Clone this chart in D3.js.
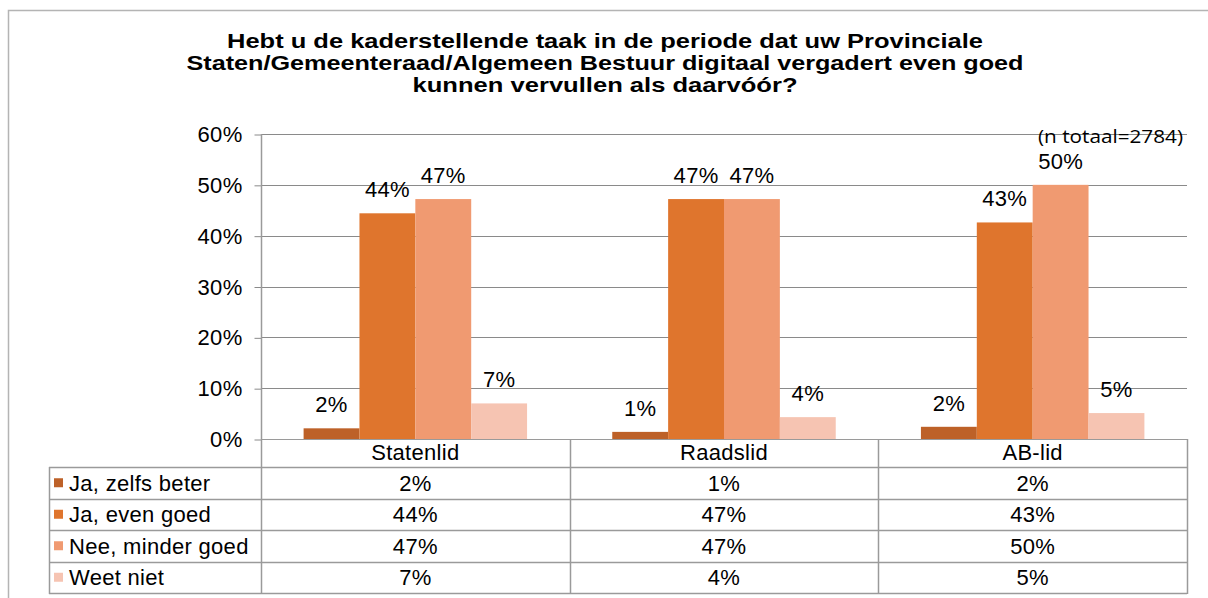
<!DOCTYPE html>
<html>
<head>
<meta charset="utf-8">
<script src="https://cdn.jsdelivr.net/npm/d3@7"></script>
<style>
  html, body { margin: 0; padding: 0; background: #fff; }
  svg { display: block; }
  text { font-family: "Liberation Sans", Arial, Helvetica, sans-serif; fill: #000; }
</style>
</head>
<body>
<svg id="chart" width="1208" height="598"></svg>
<script>
// ---- data ----
const titleLines = [
  "Hebt u de kaderstellende taak in de periode dat uw Provinciale",
  "Staten/Gemeenteraad/Algemeen Bestuur digitaal vergadert even goed",
  "kunnen vervullen als daarvóór?"
];
const categories = ["Statenlid", "Raadslid", "AB-lid"];
const seriesNames = ["Ja, zelfs beter", "Ja, even goed", "Nee, minder goed", "Weet niet"];
const seriesColors = ["#BD6128", "#DF752D", "#F09A71", "#F6C4B2"];
// values per series (percent), one entry per category
const jaZelfsBeter = [2.1, 1.4, 2.4];
const jaEvenGoed   = [44.4, 47.2, 42.6];
const neeMinderGoed = [47.2, 47.2, 50.0];
const weetNiet     = [7.0, 4.3, 5.1];
const seriesValues = [jaZelfsBeter, jaEvenGoed, neeMinderGoed, weetNiet];
const yTicks = [0, 10, 20, 30, 40, 50, 60];
const note = "(n totaal=2784)";

// ---- layout ----
const svg = d3.select("#chart");
const W = 1208, H = 598;
const plotL = 261, plotR = 1187, plotT = 134, plotB = 439;
const tableL = 49, headerB = 467, tableB = 593;
const gridColor = "#8a8a8a", tableColor = "#9a9a9a";
const FS = "22px", LS = "0.3px";

svg.append("rect").attr("width", W).attr("height", H).attr("fill", "#fff");
// outer frame
svg.append("rect").attr("x", 8.5).attr("y", 10.5).attr("width", 1300).attr("height", 700)
  .attr("fill", "none").attr("stroke", "#b4b4b4").attr("stroke-width", 1.5);

// title
const titleWidths = [756, 837, 385];
svg.append("g").selectAll("text").data(titleLines).join("text")
  .attr("x", 605).attr("y", (d, i) => 48 + i * 22)
  .attr("text-anchor", "middle")
  .attr("textLength", (d, i) => titleWidths[i])
  .attr("lengthAdjust", "spacingAndGlyphs")
  .style("font-weight", "bold").style("font-size", "19.5px")
  .text(d => d);

const y = d3.scaleLinear().domain([0, 60]).range([plotB, plotT]);
const x0 = d3.scaleBand().domain(categories).range([plotL, plotR]).padding(0);
const step = x0.bandwidth();
const gap = step * 0.138;
const x1 = d3.scaleBand().domain(seriesNames).range([gap, step - gap]).padding(0);

// gridlines
svg.append("g").selectAll("line").data(yTicks.filter(t => t > 0)).join("line")
  .attr("x1", plotL).attr("x2", plotR)
  .attr("y1", d => Math.round(y(d)) + 0.5).attr("y2", d => Math.round(y(d)) + 0.5)
  .attr("stroke", gridColor).attr("stroke-width", 1);

// y axis
const yAxis = d3.axisLeft(y).tickValues(yTicks).tickFormat(d => d + "%").tickSize(7).tickPadding(12);
const ga = svg.append("g").attr("transform", `translate(${plotL + 0.5},0.5)`).call(yAxis);
ga.select(".domain").remove();
ga.selectAll(".tick line").attr("stroke", gridColor);
ga.selectAll(".tick text").style("font-size", FS).style("letter-spacing", LS)
  .style("font-family", "Liberation Sans, Arial, sans-serif").attr("fill", "#000");

// bars
const bars = svg.append("g");
seriesValues.forEach((vals, si) => {
  bars.selectAll(null).data(vals).join("rect")
    .attr("x", (d, ci) => x0(categories[ci]) + x1(seriesNames[si]))
    .attr("width", x1.bandwidth())
    .attr("y", d => y(d))
    .attr("height", d => y(0) - y(d))
    .attr("fill", seriesColors[si]);
});

// data labels
const labels = svg.append("g");
seriesValues.forEach((vals, si) => {
  labels.selectAll(null).data(vals).join("text")
    .attr("x", (d, ci) => x0(categories[ci]) + x1(seriesNames[si]) + x1.bandwidth() / 2)
    .attr("y", d => y(d) - 16)
    .attr("text-anchor", "middle")
    .style("font-size", FS).style("letter-spacing", LS)
    .text(d => Math.round(d) + "%");
});

// note
svg.append("text").attr("x", 1038).attr("y", 143)
  .attr("textLength", 145).attr("lengthAdjust", "spacingAndGlyphs")
  .style("font-family", "'Open Sans', 'Noto Sans', sans-serif").style("font-size", "19px")
  .text(note);

// ---- data table ----
const tbl = svg.append("g");
const rowY = d3.scaleBand().domain(seriesNames).range([headerB, tableB]);
// horizontal lines
tbl.append("line").attr("x1", plotL).attr("x2", plotR).attr("y1", plotB + 0.5).attr("y2", plotB + 0.5)
  .attr("stroke", tableColor);
tbl.selectAll(null).data([headerB, ...seriesNames.map(s => rowY(s) + rowY.bandwidth())]).join("line")
  .attr("x1", tableL).attr("x2", plotR)
  .attr("y1", d => Math.round(d) + 0.5).attr("y2", d => Math.round(d) + 0.5)
  .attr("stroke", tableColor).attr("stroke-width", 1.5);
// vertical lines
tbl.append("line").attr("x1", tableL + 0.5).attr("x2", tableL + 0.5).attr("y1", headerB).attr("y2", tableB + 1)
  .attr("stroke", tableColor).attr("stroke-width", 1.5);
tbl.append("line").attr("x1", plotL + 0.5).attr("x2", plotL + 0.5).attr("y1", plotT).attr("y2", tableB + 1)
  .attr("stroke", tableColor).attr("stroke-width", 1.5);
tbl.selectAll(null).data(categories).join("line")
  .attr("x1", d => Math.round(x0(d) + step) + 0.5).attr("x2", d => Math.round(x0(d) + step) + 0.5)
  .attr("y1", plotB).attr("y2", tableB + 1)
  .attr("stroke", tableColor).attr("stroke-width", 1.5);
// category header labels
tbl.selectAll(null).data(categories).join("text")
  .attr("x", d => x0(d) + step / 2).attr("y", headerB - 7)
  .attr("text-anchor", "middle").style("font-size", FS).style("letter-spacing", LS)
  .text(d => d);
// legend keys + names
seriesNames.forEach((s, si) => {
  const cy = rowY(s) + rowY.bandwidth() / 2;
  tbl.append("rect").attr("x", 54).attr("y", cy - 4.5).attr("width", 9).attr("height", 9)
    .attr("fill", seriesColors[si]);
  tbl.append("text").attr("x", 69).attr("y", cy + 8).style("font-size", FS).style("letter-spacing", LS).text(s);
  tbl.selectAll(null).data(seriesValues[si]).join("text")
    .attr("x", (d, ci) => x0(categories[ci]) + step / 2).attr("y", cy + 8)
    .attr("text-anchor", "middle").style("font-size", FS).style("letter-spacing", LS)
    .text(d => Math.round(d) + "%");
});
</script>
</body>
</html>
